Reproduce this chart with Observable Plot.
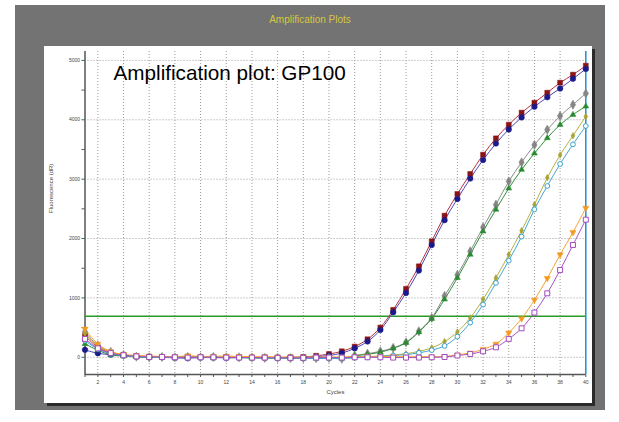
<!DOCTYPE html>
<html><head><meta charset="utf-8">
<script src="https://cdn.jsdelivr.net/npm/d3@7"></script>
<script src="https://cdn.jsdelivr.net/npm/@observablehq/plot@0.6"></script>
<style>
body{margin:0;background:#fff;width:619px;height:422px;position:relative;overflow:hidden;font-family:Arial,"Liberation Sans",sans-serif}
#panel{position:absolute;left:15px;top:5px;width:590px;height:405px;background:#737373}
#title{position:absolute;left:15px;width:590px;top:14px;text-align:center;color:#d6c640;font-size:10px}
#chart{position:absolute;left:44px;top:46px;width:548px;height:357px;background:#fff;box-shadow:3px 3px 0 #2b2b2b}
</style></head>
<body>
<div id="panel"></div>
<div id="title">Amplification Plots</div>
<div id="chart"></div>
<script>
const cycles = d3.range(1, 41);
const xTicks = [2,4,6,8,10,12,14,16,18,20,22,24,26,28,30,32,34,36,38,40];
const yTicks = [0,1000,2000,3000,4000,5000];
const threshold = 690;

const seriesNames = ["S1","S2","S3","S4","S5","S6","S7","S8"];
const red    = [365,168,80,40,20,10,5,0,10,5,0,5,0,-5,0,-5,0,5,25,55,101,180,303,500,798,1151,1532,1953,2385,2750,3087,3412,3687,3917,4120,4288,4456,4625,4760,4911];
const blue   = [125,67,45,30,10,0,0,-10,-15,-5,-5,-10,-5,-5,-10,-5,-5,0,10,30,70,151,265,460,758,1084,1460,1892,2310,2667,3010,3323,3600,3838,4040,4220,4380,4528,4690,4855];
const gray   = [430,200,90,40,10,0,5,0,5,0,5,0,0,-5,-10,-10,-15,-15,-15,-10,-25,30,60,101,158,253,438,663,1034,1387,1785,2189,2571,2963,3283,3576,3833,4064,4254,4444];
const green  = [225,120,40,20,5,0,0,-5,0,0,0,-5,-5,-10,-10,-15,-20,-20,-20,-15,-20,25,50,85,150,245,425,650,976,1337,1730,2121,2487,2845,3160,3434,3694,3917,4086,4226];
const olive  = [400,190,85,40,15,5,5,0,5,0,5,0,0,-5,-10,-10,-15,-15,-20,-20,-20,-5,10,20,40,60,100,158,264,427,663,976,1337,1729,2133,2571,3025,3407,3732,4057];
const cyan   = [280,140,60,30,10,0,0,-5,0,-5,0,-5,-5,-10,-10,-15,-15,-20,-20,-20,-20,-10,0,15,30,45,75,120,192,348,584,887,1252,1628,2032,2492,2885,3256,3586,3896];
const orange = [478,225,96,50,30,20,15,10,25,15,15,20,15,10,10,5,5,5,5,5,5,10,15,15,10,10,10,10,15,40,75,135,225,411,652,966,1330,1729,2104,2515];
const purple = [310,150,70,35,15,5,5,0,-5,0,0,-5,-5,-5,-5,-10,-10,-10,-5,-5,-5,0,0,0,-5,-5,-5,0,5,30,55,101,168,310,488,753,1077,1471,1892,2318];

const values = [red, blue, gray, green, olive, cyan, orange, purple];
const lineColors = ["#b8303c","#4a48b8","#8c8c8c","#2f8f3c","#b6b040","#40a8d2","#f4a232","#a452c0"];
const dotColors  = ["#8a1414","#1a1a8a","#858585","#2a8a30","#a8a235","#3aa2cc","#f59a20","#a04cbc"];
const symbols    = ["square","circle","diamond","triangle","diamond","circle","triangle","square"];
const filled     = [true,true,true,true,true,false,true,false];
const rotations  = [0,0,0,0,0,0,180,0];
const radii      = [2.8,2.8,2.8,2.2,2.0,2.4,2.3,2.8];

const table = [];
seriesNames.forEach((s, i) => cycles.forEach((c, j) => table.push({series: s, i, cycle: c, value: values[i][j]})));

const marks = [
  Plot.gridY(yTicks, {stroke: "#9a9a9a", strokeOpacity: 1, strokeDasharray: "1,2"}),
  Plot.gridX(xTicks.filter(d => d < 40), {stroke: "#9a9a9a", strokeOpacity: 1, strokeDasharray: "1,2"}),
  Plot.axisY(yTicks, {tickSize: 3, fontSize: 5, tickPadding: 2, label: null, stroke: "#555", fill: "#444", tickFormat: d => String(d)}),
  Plot.axisY([500,1500,2500,3500,4500], {tickSize: 3, text: null, label: null, stroke: "#555"}),
  Plot.axisX(xTicks, {tickSize: 3, fontSize: 5, tickPadding: 3, label: null, stroke: "#555", fill: "#444", tickFormat: d => String(d)}),
  Plot.axisX(d3.range(1, 40, 2), {tickSize: 3, text: null, label: null, stroke: "#555"}),
  Plot.ruleX([1], {stroke: "#555", strokeWidth: 1.5}),
  Plot.ruleY([-290], {stroke: "#555", strokeWidth: 1.5}),
  Plot.ruleY([threshold], {x1: 1, x2: 40, stroke: "#2a9a2a", strokeWidth: 1.5}),
  Plot.ruleX([40], {stroke: "#1f8fd0", strokeWidth: 1.5})
];
seriesNames.forEach((s, i) => {
  const d = table.filter(r => r.i === i);
  marks.push(Plot.line(d, {x: "cycle", y: "value", stroke: lineColors[i], strokeWidth: 1, curve: "catmull-rom"}));
});
seriesNames.forEach((s, i) => {
  const d = table.filter(r => r.i === i);
  marks.push(Plot.dot(d, {x: "cycle", y: "value", symbol: () => symbols[i], r: radii[i], rotate: rotations[i],
    fill: filled[i] ? dotColors[i] : "white", stroke: dotColors[i], strokeWidth: filled[i] ? 0.5 : 1}));
});
marks.push(Plot.text(["Amplification plot: GP100"], {frameAnchor: "top-left", dx: 28.5, dy: 14, lineAnchor: "top", textAnchor: "start", fontSize: 20.7, fill: "#000", fontFamily: "Arial, Liberation Sans, sans-serif"}));
marks.push(Plot.text(["Fluorescence (dR)"], {frameAnchor: "left", dx: -34, rotate: -90, fontSize: 6, fill: "#444"}));
marks.push(Plot.text(["Cycles"], {frameAnchor: "bottom", dy: 19, fontSize: 6, fill: "#444"}));

const chart = Plot.plot({
  width: 548, height: 357,
  marginLeft: 40.5, marginRight: 6.7, marginTop: 5, marginBottom: 29,
  style: {background: "white", fontFamily: "Arial, Liberation Sans, sans-serif"},
  x: {domain: [1, 40]},
  y: {domain: [-290, 5150]},
  symbol: {type: "identity"},
  marks
});
document.getElementById("chart").appendChild(chart);
</script>
</body></html>
